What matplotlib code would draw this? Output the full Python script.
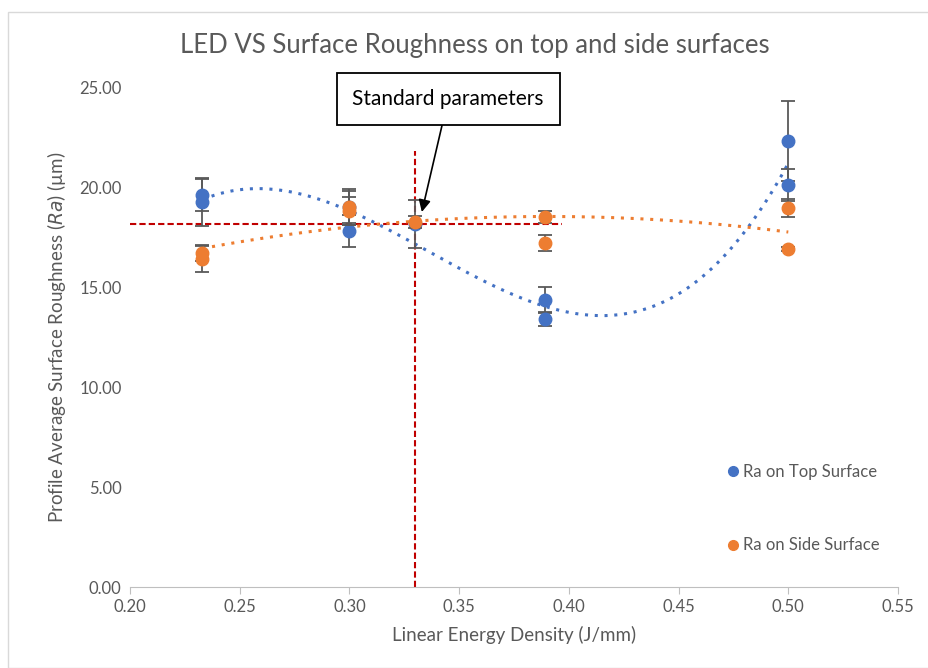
import numpy as np
import matplotlib.pyplot as plt
from matplotlib.patches import Rectangle
from matplotlib.lines import Line2D

plt.rcParams["font.family"] = ["Lato", "DejaVu Sans"]

# ─── Data ─────────────────────────────────────────────────────────────────────
top_x   = [0.233, 0.233, 0.300, 0.300, 0.330, 0.389, 0.389, 0.500, 0.500]
top_y   = [19.60, 19.25, 19.00, 17.80, 18.15, 14.35, 13.40, 22.30, 20.10]
top_err = [0.80, 1.20, 0.80, 0.80, 1.20, 0.65, 0.35, 2.00, 0.80]

side_x   = [0.233, 0.233, 0.300, 0.300, 0.330, 0.389, 0.389, 0.500, 0.500]
side_y   = [16.70, 16.40, 19.00, 18.80, 18.25, 18.50, 17.20, 18.95, 16.90]
side_err = [0.40, 0.65, 0.90, 0.70, 0.30, 0.30, 0.40, 0.45, 0.10]

std_led = 0.33
std_ra = 18.15

x_ticks = [0.20, 0.25, 0.30, 0.35, 0.40, 0.45, 0.50, 0.55]
y_ticks = [0, 5, 10, 15, 20, 25]

BLUE = "#4472C4"
ORANGE = "#ED7D31"
GREY = "#595959"
RED = "#C00000"

fig = plt.figure(figsize=(9.29, 6.68), dpi=100)
fig.patches.append(Rectangle((8 / 929, 0), 1, 1 - 12 / 668, transform=fig.transFigure,
                             fill=False, edgecolor="#D9D9D9", linewidth=1))
ax = fig.add_axes([130 / 929, 81 / 668, 768 / 929, 500 / 668])

# reference lines for standard parameters
ax.plot([std_led, std_led], [0, 21.8], color=RED, linestyle="--", linewidth=1.5,
        dashes=(3, 1.5), zorder=2)
ax.plot([0.20, 0.397], [std_ra, std_ra], color=RED, linestyle="--", linewidth=1.5,
        dashes=(3, 1.5), zorder=2)

# polynomial trendlines, as in the spreadsheet (cubic top, quadratic side)
xs = np.linspace(0.233, 0.5, 200)
for xv, yv, c, deg in [(top_x, top_y, BLUE, 3), (side_x, side_y, ORANGE, 2)]:
    coef = np.polyfit(xv, yv, deg)
    ax.plot(xs, np.polyval(coef, xs), color=c, linestyle=(0, (1, 2.2)),
            linewidth=2.2, zorder=3)

ax.errorbar(top_x, top_y, yerr=top_err, fmt="o", color=BLUE, ms=9,
            ecolor=GREY, elinewidth=1.3, capsize=5, capthick=1.3, zorder=4)
ax.errorbar(side_x, side_y, yerr=side_err, fmt="o", color=ORANGE, ms=9,
            ecolor=GREY, elinewidth=1.3, capsize=5, capthick=1.3, zorder=5)

ax.set_xlim(0.20, 0.55)
ax.set_ylim(0, 25)
ax.set_xticks(x_ticks)
ax.set_xticklabels([f"{v:.2f}" for v in x_ticks])
ax.set_yticks(y_ticks)
ax.set_yticklabels([f"{v:.2f}" for v in y_ticks])
for s in ["top", "right", "left"]:
    ax.spines[s].set_visible(False)
ax.spines["bottom"].set_color("#BFBFBF")
ax.tick_params(axis="x", colors="#BFBFBF", labelcolor=GREY, labelsize=12, length=5)
ax.tick_params(axis="y", length=0, labelcolor=GREY, labelsize=12, pad=6)

ax.set_xlabel("Linear Energy Density (J/mm)", color=GREY, fontsize=13.5, labelpad=8)
ax.set_ylabel(r"Profile Average Surface Roughness ($\it{Ra}$) (µm)", color=GREY,
              fontsize=13.5, labelpad=8)
fig.text(475 / 929, 1 - 46 / 668, "LED VS Surface Roughness on top and side surfaces",
         ha="center", va="center", color=GREY, fontsize=18.5)

# annotation box with arrow
ax.annotate("Standard parameters", xy=(0.333, 18.75), xytext=(0.345, 24.4),
            ha="center", va="center", fontsize=15, color="black",
            bbox=dict(boxstyle="square,pad=0.75", fc="white", ec="black", lw=1.3),
            arrowprops=dict(arrowstyle="-|>", color="black", lw=1.2,
                            mutation_scale=18, shrinkA=0, shrinkB=0), zorder=6)

handles = [Line2D([], [], marker="o", linestyle="none", color=BLUE, ms=7),
           Line2D([], [], marker="o", linestyle="none", color=ORANGE, ms=7)]
leg = ax.legend(handles, ["Ra on Top Surface", "Ra on Side Surface"],
                loc="upper left", bbox_to_anchor=(0.755, 0.276), frameon=False,
                fontsize=12, labelspacing=3.45, handletextpad=0.1, handlelength=1.0)
for t in leg.get_texts():
    t.set_color(GREY)

fig.savefig("out.png", dpi=100)
